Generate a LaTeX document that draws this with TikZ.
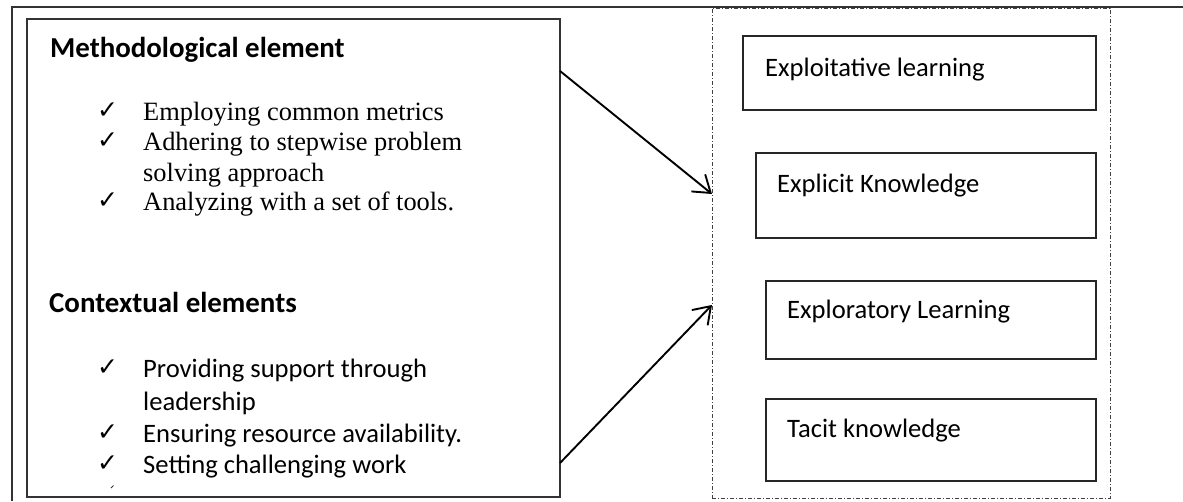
\documentclass[tikz,border=0pt]{standalone}
\usepackage{fontspec}
\setmainfont{Carlito}
\newfontfamily\timesf{Liberation Serif}
\newfontfamily\checkf{DejaVu Sans}
\usetikzlibrary{arrows.meta,calc}
\tikzset{
  frame/.style={draw=black!80, line width=1.5pt},
  bigbox/.style={draw=black!80, line width=1.1pt, rectangle, inner sep=0pt, outer sep=0pt, anchor=north west},
  container/.style={draw=black!75, line width=0.9pt, dash pattern=on 4pt off 2pt on 1pt off 2pt, rectangle, inner sep=0pt, outer sep=0pt, anchor=north west},
  kbox/.style={draw=black!85, line width=1.1pt, rectangle, inner sep=0pt, outer sep=0pt, anchor=north west},
  heading/.style={anchor=base west, inner sep=0pt, font=\bfseries\fontsize{28.9}{34}\selectfont},
  timesline/.style={anchor=base west, inner sep=0pt, font=\timesf\fontsize{26.4}{30}\selectfont},
  caliline/.style={anchor=base west, inner sep=0pt, font=\fontsize{26.6}{32.5}\selectfont},
  tick/.style={anchor=base west, inner sep=0pt, font=\checkf\fontsize{25}{26}\selectfont},
  conn/.style={draw=black, line width=1.9pt, -{Straight Barb[length=16pt,width=22pt,line width=1.9pt]}}
}
\begin{document}
\begin{tikzpicture}[x=1pt,y=-1pt]
\useasboundingbox (0,0) rectangle (1183,501);
% outer frame (top and left)
\coordinate (ftl) at (12,7);
\coordinate (ftr) at (1183,7);
\coordinate (fbl) at (12,501);
\draw[frame] (ftr) -- (ftl) -- (fbl);
% left box
\node[bigbox, minimum width=533pt, minimum height=478pt] (left) at (27,19) {};
% container
\node[container, minimum width=398pt, minimum height=490pt] (cont) at (712,8) {};
% knowledge boxes
\node[kbox, minimum width=353pt, minimum height=74pt] (b1) at (743,36) {};
\node[kbox, minimum width=340pt, minimum height=85pt] (b2) at (756,153) {};
\node[kbox, minimum width=330pt, minimum height=78pt] (b3) at (766,281) {};
\node[kbox, minimum width=330pt, minimum height=82pt] (b4) at (766,399) {};
\node[caliline] (t1) at (765,76) {Exploitative learning};
\node[caliline] (t2) at (777,192) {Explicit Knowledge};
\node[caliline] (t3) at (787,318) {Exploratory Learning};
\node[caliline] (t4) at (787,437) {Tacit knowledge};
% headings
\node[heading] (h1) at (50,57) {Methodological element};
\node[heading] (h2) at (49,312) {Contextual elements};
% methodological items
\node[tick] (c1) at (97,118) {✓};
\node[timesline] (m1) at (143,120) {Employing common metrics};
\node[tick] (c2) at (97,148) {✓};
\node[timesline] (m2) at (143,150) {Adhering to stepwise problem};
\node[timesline] (m2b) at (143,181) {solving approach};
\node[tick] (c3) at (97,208) {✓};
\node[timesline] (m3) at (143,210) {Analyzing with a set of tools.};
% contextual items
\node[tick] (d1) at (97,375) {✓};
\node[caliline] (k1) at (143,377) {Providing support through};
\node[caliline] (k1b) at (143,410) {leadership};
\node[tick] (d2) at (97,440) {✓};
\node[caliline] (k2) at (143,442) {Ensuring resource availability.};
\node[tick] (d3) at (97,471) {✓};
\node[caliline] (k3) at (143,473) {Setting challenging work};
\coordinate (frA) at (111,488);
\coordinate (frB) at (113.5,485.5);
\draw[line width=0.8pt, black!80] (frA) -- (frB);
% connectors
\coordinate (s1) at ($(left.north east)!0.1088!(left.south east)$);
\coordinate (e1) at ($(cont.north west)!0.3796!(cont.south west)$);
\coordinate (s2) at ($(left.north east)!0.9289!(left.south east)$);
\coordinate (e2) at ($(cont.north west)!0.606!(cont.south west)$);
\draw[conn] (s1) -- (e1);
\draw[conn] (s2) -- (e2);
\end{tikzpicture}
\end{document}
